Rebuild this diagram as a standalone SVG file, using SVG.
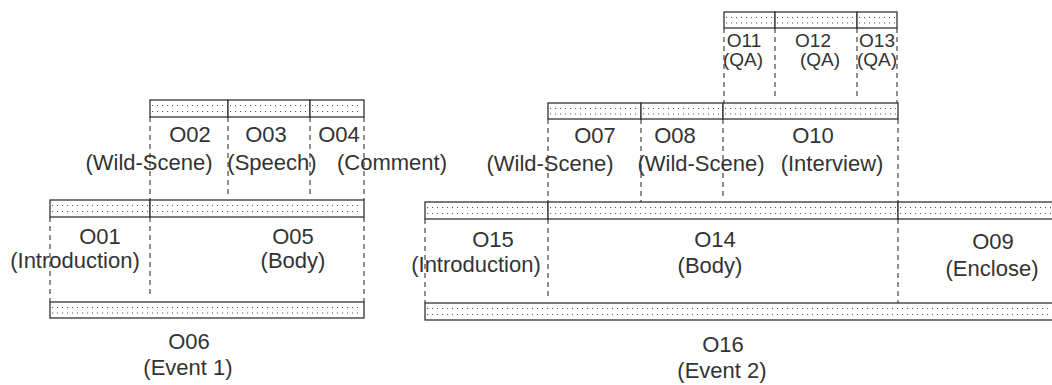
<svg xmlns="http://www.w3.org/2000/svg" width="1052" height="385" viewBox="0 0 1052 385">
<style>
.bar{fill:#fff;stroke:#333;stroke-width:1.3}
.dot{stroke:#555;stroke-width:1.1;stroke-dasharray:1.1 3.9;fill:none}
.dash{stroke:#333;stroke-width:1.1;stroke-dasharray:5 4;fill:none}
text{font-family:"Liberation Sans",Arial,sans-serif;font-size:22px;fill:#333;text-anchor:middle}
.sm{font-size:19px}
</style>
<rect width="1052" height="385" fill="#fff"/>
<g id="connectors">
<line class="dash" x1="150" y1="117" x2="150" y2="200"/>
<line class="dash" x1="228" y1="117" x2="228" y2="195"/>
<line class="dash" x1="310" y1="117" x2="310" y2="195"/>
<line class="dash" x1="364" y1="117" x2="364" y2="200"/>
<line class="dash" x1="50" y1="217" x2="50" y2="302"/>
<line class="dash" x1="150" y1="217" x2="150" y2="296"/>
<line class="dash" x1="364" y1="217" x2="364" y2="302"/>
<line class="dash" x1="724" y1="28" x2="724" y2="103"/>
<line class="dash" x1="775" y1="28" x2="775" y2="100"/>
<line class="dash" x1="857" y1="28" x2="857" y2="100"/>
<line class="dash" x1="897" y1="28" x2="897" y2="103"/>
<line class="dash" x1="548" y1="119" x2="548" y2="202"/>
<line class="dash" x1="641" y1="119" x2="641" y2="202"/>
<line class="dash" x1="723" y1="119" x2="723" y2="198"/>
<line class="dash" x1="898" y1="119" x2="898" y2="202"/>
<line class="dash" x1="425" y1="219" x2="425" y2="303"/>
<line class="dash" x1="548" y1="219" x2="548" y2="296"/>
<line class="dash" x1="898" y1="219" x2="898" y2="303"/>
</g>
<g id="O02"><rect class="bar" x="150" y="100" width="78" height="17"/><line class="dot" x1="152" y1="105.5" x2="226" y2="105.5"/><line class="dot" x1="152" y1="111.5" x2="226" y2="111.5"/><text x="190" y="142">O02</text><text x="149" y="170">(Wild-Scene)</text></g>
<g id="O03"><rect class="bar" x="228" y="100" width="82" height="17"/><line class="dot" x1="230" y1="105.5" x2="308" y2="105.5"/><line class="dot" x1="230" y1="111.5" x2="308" y2="111.5"/><text x="266" y="142">O03</text><text x="272" y="170">(Speech)</text></g>
<g id="O04"><rect class="bar" x="310" y="100" width="54" height="17"/><line class="dot" x1="312" y1="105.5" x2="362" y2="105.5"/><line class="dot" x1="312" y1="111.5" x2="362" y2="111.5"/><text x="339" y="142">O04</text><text x="392" y="170">(Comment)</text></g>
<g id="O01"><rect class="bar" x="50" y="200" width="100" height="17"/><line class="dot" x1="52" y1="205.5" x2="148" y2="205.5"/><line class="dot" x1="52" y1="211.5" x2="148" y2="211.5"/><text x="100" y="244">O01</text><text x="75" y="268">(Introduction)</text></g>
<g id="O05"><rect class="bar" x="150" y="200" width="214" height="17"/><line class="dot" x1="152" y1="205.5" x2="362" y2="205.5"/><line class="dot" x1="152" y1="211.5" x2="362" y2="211.5"/><text x="293" y="244">O05</text><text x="293" y="268">(Body)</text></g>
<g id="O06"><rect class="bar" x="50" y="302" width="314" height="16"/><line class="dot" x1="52" y1="307.5" x2="362" y2="307.5"/><line class="dot" x1="52" y1="313" x2="362" y2="313"/><text x="189" y="349">O06</text><text x="188" y="375">(Event 1)</text></g>
<g id="O11"><rect class="bar" x="724" y="12" width="51" height="16"/><line class="dot" x1="726" y1="17.5" x2="773" y2="17.5"/><line class="dot" x1="726" y1="23" x2="773" y2="23"/><text class="sm" x="744" y="47">O11</text><text class="sm" x="743" y="66">(QA)</text></g>
<g id="O12"><rect class="bar" x="775" y="12" width="82" height="16"/><line class="dot" x1="777" y1="17.5" x2="855" y2="17.5"/><line class="dot" x1="777" y1="23" x2="855" y2="23"/><text class="sm" x="813" y="47">O12</text><text class="sm" x="820" y="66">(QA)</text></g>
<g id="O13"><rect class="bar" x="857" y="12" width="40" height="16"/><line class="dot" x1="859" y1="17.5" x2="895" y2="17.5"/><line class="dot" x1="859" y1="23" x2="895" y2="23"/><text class="sm" x="877" y="47">O13</text><text class="sm" x="877" y="66">(QA)</text></g>
<g id="O07"><rect class="bar" x="548" y="103" width="93" height="16"/><line class="dot" x1="550" y1="108.5" x2="639" y2="108.5"/><line class="dot" x1="550" y1="114" x2="639" y2="114"/><text x="595" y="143">O07</text><text x="550" y="171">(Wild-Scene)</text></g>
<g id="O08"><rect class="bar" x="641" y="103" width="82" height="16"/><line class="dot" x1="643" y1="108.5" x2="721" y2="108.5"/><line class="dot" x1="643" y1="114" x2="721" y2="114"/><text x="675" y="143">O08</text><text x="701" y="171">(Wild-Scene)</text></g>
<g id="O10"><rect class="bar" x="723" y="103" width="175" height="16"/><line class="dot" x1="725" y1="108.5" x2="896" y2="108.5"/><line class="dot" x1="725" y1="114" x2="896" y2="114"/><text x="813" y="143">O10</text><text x="832" y="171">(Interview)</text></g>
<g id="O15"><rect class="bar" x="425" y="202" width="123" height="17"/><line class="dot" x1="427" y1="207.5" x2="546" y2="207.5"/><line class="dot" x1="427" y1="213.5" x2="546" y2="213.5"/><text x="493" y="247">O15</text><text x="476" y="272">(Introduction)</text></g>
<g id="O14"><rect class="bar" x="548" y="202" width="350" height="17"/><line class="dot" x1="550" y1="207.5" x2="896" y2="207.5"/><line class="dot" x1="550" y1="213.5" x2="896" y2="213.5"/><text x="715" y="247">O14</text><text x="710" y="273">(Body)</text></g>
<g id="O09"><rect class="bar" x="898" y="202" width="170" height="17"/><line class="dot" x1="900" y1="207.5" x2="1052" y2="207.5"/><line class="dot" x1="900" y1="213.5" x2="1052" y2="213.5"/><text x="993" y="249">O09</text><text x="992" y="276">(Enclose)</text></g>
<g id="O16"><rect class="bar" x="425" y="303" width="643" height="17"/><line class="dot" x1="427" y1="308.5" x2="1052" y2="308.5"/><line class="dot" x1="427" y1="314.5" x2="1052" y2="314.5"/><text x="723" y="352">O16</text><text x="722" y="378">(Event 2)</text></g>
</svg>
